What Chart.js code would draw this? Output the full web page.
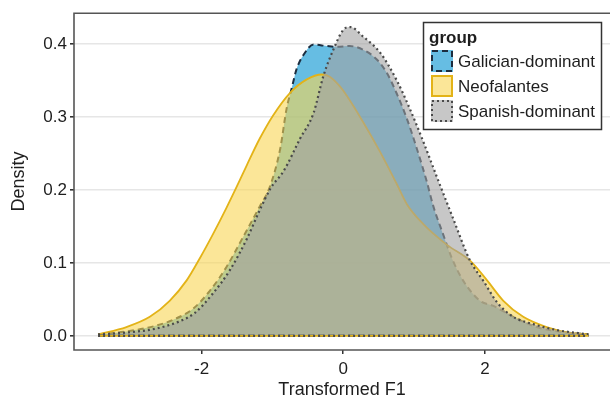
<!DOCTYPE html>
<html>
<head>
<meta charset="utf-8">
<script src="https://cdn.jsdelivr.net/npm/chart.js@4.4.1/dist/chart.umd.min.js"></script>
<style>
  body { margin: 0; background: #fff; }
  canvas { display: block; }
</style>
</head>
<body>
<canvas id="myChart" width="610" height="399"></canvas>
<script>
// density curves (x = Transformed F1, y = Density)
const galicianX = [-3.46, -3.06, -2.68, -2.40, -2.12, -1.88, -1.65, -1.41, -1.18, -1.04, -0.89, -0.80, -0.73, -0.66, -0.56, -0.42, -0.23, -0.09, 0.09, 0.28, 0.47, 0.61, 0.75, 0.90, 1.04, 1.18, 1.27, 1.41, 1.53, 1.69, 1.93, 2.12, 2.40, 2.73, 3.11, 3.46];
const galicianY = [0.002, 0.006, 0.013, 0.022, 0.037, 0.062, 0.094, 0.136, 0.177, 0.203, 0.256, 0.311, 0.338, 0.365, 0.385, 0.399, 0.397, 0.396, 0.397, 0.392, 0.379, 0.361, 0.333, 0.297, 0.256, 0.211, 0.178, 0.139, 0.107, 0.076, 0.048, 0.041, 0.026, 0.012, 0.005, 0.002];

const neoX = [-3.46, -3.06, -2.73, -2.45, -2.21, -2.02, -1.84, -1.65, -1.50, -1.36, -1.18, -0.99, -0.75, -0.52, -0.30, -0.19, -0.05, 0.05, 0.28, 0.52, 0.75, 0.90, 1.13, 1.46, 1.79, 2.03, 2.26, 2.54, 2.87, 3.20, 3.46];
const neoY = [0.002, 0.012, 0.026, 0.048, 0.076, 0.107, 0.139, 0.175, 0.205, 0.234, 0.270, 0.302, 0.333, 0.351, 0.358, 0.355, 0.342, 0.329, 0.293, 0.252, 0.209, 0.180, 0.153, 0.125, 0.103, 0.076, 0.048, 0.026, 0.012, 0.004, 0.002];

const spanishX = [-3.46, -3.00, -2.64, -2.31, -2.10, -1.84, -1.60, -1.36, -1.18, -1.02, -0.84, -0.61, -0.42, -0.28, -0.14, 0.00, 0.10, 0.28, 0.52, 0.75, 0.94, 1.13, 1.32, 1.55, 1.79, 1.98, 2.17, 2.40, 2.68, 3.01, 3.46];
const spanishY = [0.002, 0.005, 0.010, 0.020, 0.031, 0.058, 0.090, 0.133, 0.172, 0.203, 0.226, 0.270, 0.305, 0.356, 0.392, 0.419, 0.423, 0.410, 0.388, 0.351, 0.311, 0.266, 0.218, 0.161, 0.103, 0.075, 0.046, 0.026, 0.016, 0.008, 0.002];

const groups = ['Galician-dominant', 'Neofalantes', 'Spanish-dominant'];
const xTicks = [-2, 0, 2];
const yTicks = [0.0, 0.1, 0.2, 0.3, 0.4];

const FONT = 'Arial, "Liberation Sans", sans-serif';
const TXT = '#1e1e1e';

const styles = [
  { fill: 'rgba(0,145,208,0.6)', line: '#1c2d3f', dash: [6, 4], width: 2 },
  { fill: 'rgba(248,213,83,0.6)', line: '#e3b318', dash: [], width: 1.8 },
  { fill: 'rgba(162,162,162,0.6)', line: '#4a4a4a', dash: [2, 3], width: 2.2 }
];

function pts(xs, ys) {
  return xs.map((x, i) => ({ x: x, y: ys[i] }));
}

const series = [pts(galicianX, galicianY), pts(neoX, neoY), pts(spanishX, spanishY)];

const datasets = series.map((d, i) => ({
  label: groups[i],
  data: d,
  order: 2 - i,        // galician at the bottom, spanish on top
  backgroundColor: styles[i].fill,
  borderColor: styles[i].line,
  borderDash: styles[i].dash,
  borderWidth: styles[i].width,
  fill: 'origin',
  pointRadius: 0,
  cubicInterpolationMode: 'monotone'
}));

// panel border, baselines and the boxed legend
const panelPlugin = {
  id: 'panel',
  afterDatasetsDraw(chart) {
    const ctx = chart.ctx;
    const xs = chart.scales.x, ys = chart.scales.y;
    ctx.save();
    ctx.lineCap = 'butt';
    series.forEach((d, i) => {
      ctx.beginPath();
      ctx.setLineDash(styles[i].dash);
      ctx.strokeStyle = styles[i].line;
      ctx.lineWidth = styles[i].width;
      const y0 = ys.getPixelForValue(0);
      ctx.moveTo(xs.getPixelForValue(d[0].x), y0);
      ctx.lineTo(xs.getPixelForValue(d[d.length - 1].x), y0);
      ctx.stroke();
    });
    ctx.restore();
  },
  afterDraw(chart) {
    const ctx = chart.ctx;
    const a = chart.chartArea;
    ctx.save();
    ctx.setLineDash([]);
    ctx.strokeStyle = '#555';
    ctx.lineWidth = 1.6;
    ctx.beginPath();
    ctx.moveTo(a.right + 2, a.top);
    ctx.lineTo(a.left, a.top);
    ctx.lineTo(a.left, a.bottom);
    ctx.lineTo(a.right + 2, a.bottom);
    ctx.stroke();

    // legend box
    const bx = 423.5, by = 22.5, bw = 178, bh = 107;
    ctx.fillStyle = '#fff';
    ctx.fillRect(bx, by, bw, bh);
    ctx.strokeStyle = '#333';
    ctx.lineWidth = 1.5;
    ctx.strokeRect(bx, by, bw, bh);
    ctx.fillStyle = TXT;
    ctx.font = 'bold 17px ' + FONT;
    ctx.textBaseline = 'alphabetic';
    ctx.fillText('group', 429, 43);
    ctx.font = '17px ' + FONT;
    ctx.textBaseline = 'middle';
    groups.forEach((g, i) => {
      const sy = 50 + i * 25;
      ctx.fillStyle = '#fff';
      ctx.fillRect(431, sy, 22, 22);
      ctx.fillStyle = styles[i].fill;
      ctx.fillRect(431, sy, 22, 22);
      ctx.setLineDash(styles[i].dash);
      ctx.strokeStyle = styles[i].line;
      ctx.lineWidth = 2;
      ctx.strokeRect(432, sy + 1, 20, 20);
      ctx.setLineDash([]);
      ctx.fillStyle = TXT;
      ctx.fillText(g, 458, sy + 12);
    });
    ctx.restore();
  }
};

const config = {
  type: 'line',
  data: { datasets: datasets },
  options: {
    responsive: false,
    animation: false,
    layout: { padding: { top: 10, right: 0, left: 0, bottom: 0 } },
    plugins: {
      legend: { display: false },
      tooltip: { enabled: false }
    },
    scales: {
      x: {
        type: 'linear',
        min: -3.80,
        max: 3.765,
        afterBuildTicks: (axis) => { axis.ticks = xTicks.map(v => ({ value: v })); },
        afterFit: (axis) => { axis.height = 49; },
        border: { display: false },
        grid: { drawOnChartArea: false, tickLength: 4, tickColor: '#333', lineWidth: 1.5 },
        ticks: { color: TXT, font: { family: FONT, size: 17 }, padding: 5, maxRotation: 0 },
        title: { display: true, text: 'Transformed F1', color: TXT, font: { family: FONT, size: 18 }, padding: { top: 0, bottom: -2 } }
      },
      y: {
        type: 'linear',
        min: -0.0194,
        max: 0.442,
        afterBuildTicks: (axis) => { axis.ticks = yTicks.map(v => ({ value: v })); },
        afterFit: (axis) => { axis.width = 74; },
        border: { display: false },
        grid: { color: '#e6e6e6', lineWidth: 1.6, tickLength: 4, tickColor: '#333' },
        ticks: { color: TXT, font: { family: FONT, size: 17 }, padding: 3, callback: (v) => v.toFixed(1) },
        title: { display: true, text: 'Density', color: TXT, font: { family: FONT, size: 18 }, padding: { top: 8, bottom: 0 } }
      }
    }
  },
  plugins: [panelPlugin]
};

let ctx = document.getElementById('myChart').getContext('2d');
let myChart = new Chart(ctx, config);
</script>
</body>
</html>
